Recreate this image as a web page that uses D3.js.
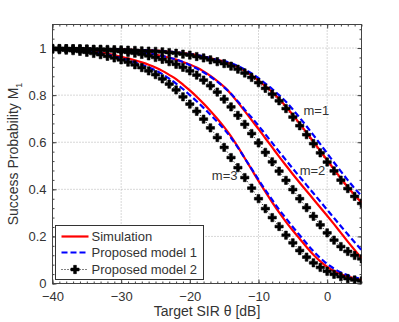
<!DOCTYPE html>
<html>
<head>
<meta charset="utf-8">
<script src="https://d3js.org/d3.v7.min.js"></script>
<style>
  body { margin: 0; background: #fff; }
  svg text { font-family: "Liberation Sans", Arial, Helvetica, sans-serif; fill: #333; }
</style>
</head>
<body>
<div id="chart"></div>
<script>
// target SIR samples [dB]
var sir = [-40,-39,-38,-37,-36,-35,-34,-33,-32,-31,-30,-29,-28,-27,-26,-25,-24,-23,-22,-21,
           -20,-19,-18,-17,-16,-15,-14,-13,-12,-11,-10,-9,-8,-7,-6,-5,-4,-3,-2,-1,0,1,2,3,4,5];

// Simulation
var simM1 = [.999,.998,.998,.998,.997,.997,.996,.996,.995,.995,.994,.993,.992,.991,.990,.989,.987,.985,.982,.979,
             .975,.970,.964,.957,.950,.942,.932,.919,.903,.884,.862,.838,.813,.784,.752,.716,.679,.641,.602,.563,
             .524,.485,.446,.410,.376,.344];
var simM2 = [.998,.998,.997,.997,.996,.995,.994,.993,.992,.991,.989,.987,.984,.981,.977,.972,.966,.959,.951,.941,
             .930,.917,.901,.882,.860,.835,.805,.769,.732,.694,.656,.617,.578,.539,.501,.464,.428,.393,.358,.323,
             .288,.252,.215,.178,.142,.107];
var simM3 = [.996,.995,.994,.992,.990,.988,.985,.981,.976,.970,.963,.956,.948,.939,.929,.917,.903,.886,.868,.845,
             .820,.793,.764,.733,.700,.664,.625,.580,.532,.484,.436,.390,.345,.302,.262,.225,.190,.155,.122,.094,
             .071,.053,.039,.029,.021,.016];

// Proposed model 1
var mod1M1 = [.999,.998,.998,.998,.997,.997,.996,.996,.995,.995,.994,.993,.992,.991,.990,.989,.987,.985,.982,.979,
              .975,.970,.964,.957,.950,.945,.936,.924,.909,.892,.872,.849,.826,.800,.772,.739,.704,.668,.630,.592,
              .553,.514,.476,.439,.404,.372];
var mod1M2 = [.998,.998,.997,.997,.996,.995,.994,.993,.992,.991,.989,.987,.984,.981,.977,.972,.966,.959,.951,.941,
              .927,.913,.897,.878,.857,.833,.806,.773,.738,.705,.670,.634,.597,.560,.524,.488,.453,.418,.383,.348,
              .313,.278,.243,.209,.175,.142];
var mod1M3 = [.996,.995,.994,.991,.989,.986,.983,.978,.972,.965,.957,.949,.939,.929,.918,.905,.889,.870,.849,.826,
              .800,.774,.746,.717,.687,.655,.619,.577,.532,.487,.441,.397,.355,.314,.277,.240,.205,.170,.137,.108,
              .083,.063,.047,.035,.026,.020];

// Proposed model 2
var mod2M1 = [.998,.998,.997,.997,.997,.996,.995,.995,.994,.993,.992,.991,.990,.988,.987,.986,.984,.981,.978,.974,
              .970,.964,.958,.950,.942,.934,.923,.910,.894,.875,.853,.829,.804,.776,.743,.707,.670,.632,.594,.555,
              .516,.478,.439,.403,.370,.340];
var mod2M2 = [.998,.997,.997,.996,.995,.994,.993,.992,.990,.988,.985,.982,.978,.973,.967,.960,.952,.942,.931,.918,
              .903,.885,.864,.840,.813,.783,.750,.714,.676,.637,.597,.557,.517,.477,.438,.399,.360,.322,.285,.249,
              .215,.184,.157,.136,.119,.105];
var mod2M3 = [.995,.993,.991,.989,.986,.982,.977,.972,.965,.958,.950,.940,.929,.917,.903,.887,.869,.847,.822,.793,
              .762,.731,.698,.661,.620,.578,.535,.492,.450,.405,.360,.318,.280,.242,.205,.173,.140,.112,.088,.068,
              .052,.039,.029,.021,.015,.011];

var xTicks = [-40, -30, -20, -10, 0];
var yTicks = [0, 0.2, 0.4, 0.6, 0.8, 1];
var legendNames = ["Simulation", "Proposed model 1", "Proposed model 2"];
var curveNames = ["m=1", "m=2", "m=3"];
var labelPos = [[-3.45, 0.716], [-4.0, 0.46], [-16.8, 0.44]];

var W = 399, H = 322;
var margin = {top: 24.5, right: 37.5, bottom: 38.5, left: 52.5};
var width = W - margin.left - margin.right,
    height = H - margin.top - margin.bottom;

var svg = d3.select("#chart").append("svg")
    .attr("width", W).attr("height", H);
var g = svg.append("g")
    .attr("transform", "translate(" + margin.left + "," + margin.top + ")");

var x = d3.scaleLinear().domain([-40, 5]).range([0, width]);
var y = d3.scaleLinear().domain([0, 1.1]).range([height, 0]);

// grid
g.append("g").selectAll("line").data(xTicks.slice(1)).enter().append("line")
    .attr("x1", function(d) { return x(d); }).attr("x2", function(d) { return x(d); })
    .attr("y1", 0).attr("y2", height)
    .attr("stroke", "#b0b0b0").attr("stroke-dasharray", "1,2");
g.append("g").selectAll("line").data(yTicks.slice(1)).enter().append("line")
    .attr("y1", function(d) { return y(d); }).attr("y2", function(d) { return y(d); })
    .attr("x1", 0).attr("x2", width)
    .attr("stroke", "#b0b0b0").attr("stroke-dasharray", "1,2");

// axes (ticks inside, on all four sides)
var fmt = function(d) { return d < 0 ? "\u2212" + Math.abs(d) : d; };
var xMinor = d3.range(-40, 5.01, 1), yMinor = d3.range(0, 1.101, 0.04);

function styleAxis(sel) {
  sel.select(".domain").remove();
  sel.selectAll("line").attr("stroke", "#444");
  sel.selectAll("text").attr("font-size", 13).attr("fill", "#333");
}
g.append("g").attr("transform", "translate(0," + height + ")")
    .call(d3.axisBottom(x).tickValues(xMinor).tickSize(-2).tickFormat(""))
    .call(styleAxis);
g.append("g").attr("transform", "translate(0," + height + ")")
    .call(d3.axisBottom(x).tickValues(xTicks).tickSize(-4).tickPadding(8).tickFormat(fmt))
    .call(styleAxis);
g.append("g").call(d3.axisTop(x).tickValues(xMinor).tickSize(-2).tickFormat("")).call(styleAxis);
g.append("g").call(d3.axisTop(x).tickValues(xTicks).tickSize(-4).tickFormat("")).call(styleAxis);
g.append("g").call(d3.axisLeft(y).tickValues(yMinor).tickSize(-2).tickFormat("")).call(styleAxis);
g.append("g").call(d3.axisLeft(y).tickValues(yTicks).tickSize(-4).tickPadding(6).tickFormat(d3.format("~g")))
    .call(styleAxis);
g.append("g").attr("transform", "translate(" + width + ",0)")
    .call(d3.axisRight(y).tickValues(yMinor).tickSize(-2).tickFormat("")).call(styleAxis);
g.append("g").attr("transform", "translate(" + width + ",0)")
    .call(d3.axisRight(y).tickValues(yTicks).tickSize(-4).tickFormat("")).call(styleAxis);

g.append("rect").attr("width", width).attr("height", height)
    .attr("fill", "none").attr("stroke", "#444");

// curves
g.append("clipPath").attr("id", "clip").append("rect")
    .attr("width", width).attr("height", height);
var plot = g.append("g").attr("clip-path", "url(#clip)");

function pts(vals) { return vals.map(function(v, i) { return [sir[i], v]; }); }
var line = d3.line().x(function(d) { return x(d[0]); }).y(function(d) { return y(d[1]); })
    .curve(d3.curveMonotoneX);

[mod2M1, mod2M2, mod2M3].forEach(function(s) {
  plot.append("path").datum(pts(s)).attr("d", line)
      .attr("fill", "none").attr("stroke", "#000").attr("stroke-width", 1)
      .attr("stroke-dasharray", "1,2");
});
[simM1, simM2, simM3].forEach(function(s) {
  plot.append("path").datum(pts(s)).attr("d", line)
      .attr("fill", "none").attr("stroke", "#ff0000").attr("stroke-width", 2.2);
});
[mod1M1, mod1M2, mod1M3].forEach(function(s) {
  plot.append("path").datum(pts(s)).attr("d", line)
      .attr("fill", "none").attr("stroke", "#0000ff").attr("stroke-width", 2.2)
      .attr("stroke-dasharray", "6,3");
});
var cross = d3.symbol().type(d3.symbolCross).size(38);
[mod2M1, mod2M2, mod2M3].forEach(function(s) {
  plot.append("g").selectAll("path").data(pts(s)).enter().append("path")
      .attr("d", cross)
      .attr("transform", function(d) { return "translate(" + x(d[0]) + "," + y(d[1]) + ")"; })
      .attr("fill", "#000").attr("stroke", "#000").attr("stroke-width", 0.6);
});

// curve labels
curveNames.forEach(function(t, i) {
  g.append("text").attr("x", x(labelPos[i][0])).attr("y", y(labelPos[i][1]))
      .attr("font-size", 13).text(t);
});

// axis titles
g.append("text").attr("x", width / 2).attr("y", height + 32)
    .attr("text-anchor", "middle").attr("font-size", 14)
    .text("Target SIR \u03b8 [dB]");
var yl = svg.append("text")
    .attr("transform", "translate(18," + (margin.top + height / 2) + ") rotate(-90)")
    .attr("text-anchor", "middle").attr("font-size", 14);
yl.append("tspan").text("Success Probability M");
yl.append("tspan").attr("font-size", 9).attr("dy", 4).text("1");

// legend
var lg = svg.append("g").attr("transform", "translate(55.5,225.5)");
lg.append("rect").attr("width", 148).attr("height", 54)
    .attr("fill", "#fff").attr("stroke", "#333");
var rowY = [11, 27, 44];
lg.append("line").attr("x1", 6).attr("x2", 33).attr("y1", rowY[0]).attr("y2", rowY[0])
    .attr("stroke", "#ff0000").attr("stroke-width", 2.2);
lg.append("line").attr("x1", 6).attr("x2", 33).attr("y1", rowY[1]).attr("y2", rowY[1])
    .attr("stroke", "#0000ff").attr("stroke-width", 2.2).attr("stroke-dasharray", "6,3");
lg.append("line").attr("x1", 6).attr("x2", 33).attr("y1", rowY[2]).attr("y2", rowY[2])
    .attr("stroke", "#000").attr("stroke-width", 1).attr("stroke-dasharray", "1,2");
lg.append("path").attr("d", cross).attr("transform", "translate(19.5," + rowY[2] + ")")
    .attr("fill", "#000").attr("stroke", "#000").attr("stroke-width", 0.6);
legendNames.forEach(function(t, i) {
  lg.append("text").attr("x", 36).attr("y", rowY[i] + 4.5).attr("font-size", 13).text(t);
});
</script>
</body>
</html>
